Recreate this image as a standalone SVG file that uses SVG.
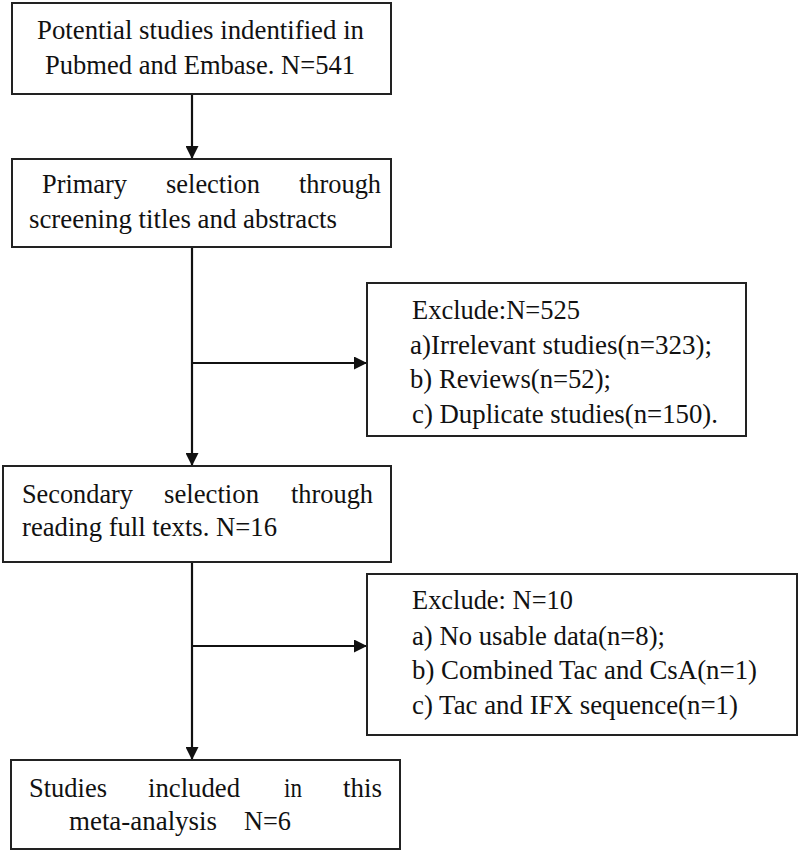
<svg xmlns="http://www.w3.org/2000/svg" width="800" height="853" viewBox="0 0 800 853">
<style>
.box{fill:#fff;stroke:#222;stroke-width:2}
.c{fill:none;stroke:#111;stroke-width:2.2}
</style>
<defs>
<marker id="ah" markerUnits="userSpaceOnUse" markerWidth="13" markerHeight="13" viewBox="0 0 13 13" refX="13" refY="6.5" orient="auto">
<path d="M0,0 L13,6.5 L0,13 z" fill="#111"/>
</marker>
</defs>
<rect width="800" height="853" fill="#fff"/>
<g id="connectors">
<line class="c" x1="192" y1="94" x2="192" y2="159" marker-end="url(#ah)"/>
<line class="c" x1="192" y1="247" x2="192" y2="466" marker-end="url(#ah)"/>
<line class="c" x1="192" y1="363" x2="367" y2="363" marker-end="url(#ah)"/>
<line class="c" x1="192" y1="562" x2="192" y2="760" marker-end="url(#ah)"/>
<line class="c" x1="192" y1="646" x2="367" y2="646" marker-end="url(#ah)"/>
</g>
<g font-family="Liberation Serif, Times New Roman, serif" font-size="26.5" fill="#111">
<g id="node1">
<rect class="box" x="12" y="3" width="379" height="91"/>
<text x="37" y="39" textLength="327" lengthAdjust="spacingAndGlyphs">Potential studies indentified in</text>
<text x="45" y="74" textLength="310" lengthAdjust="spacingAndGlyphs">Pubmed and Embase. N=541</text>
</g>
<g id="node2">
<rect class="box" x="12" y="159" width="379" height="88"/>
<text x="42" y="193" textLength="85" lengthAdjust="spacingAndGlyphs">Primary</text>
<text x="166" y="193" textLength="94" lengthAdjust="spacingAndGlyphs">selection</text>
<text x="299" y="193" textLength="82" lengthAdjust="spacingAndGlyphs">through</text>
<text x="29" y="228" textLength="308" lengthAdjust="spacingAndGlyphs">screening titles and abstracts</text>
</g>
<g id="exclude1">
<rect class="box" x="367" y="283" width="379" height="153"/>
<text x="412" y="319" textLength="168" lengthAdjust="spacingAndGlyphs">Exclude:N=525</text>
<text x="410" y="354" textLength="302" lengthAdjust="spacingAndGlyphs">a)Irrelevant studies(n=323);</text>
<text x="410" y="388" textLength="201" lengthAdjust="spacingAndGlyphs">b) Reviews(n=52);</text>
<text x="412" y="423" textLength="306" lengthAdjust="spacingAndGlyphs">c) Duplicate studies(n=150).</text>
</g>
<g id="node3">
<rect class="box" x="3" y="466" width="388" height="96"/>
<text x="22" y="503" textLength="111" lengthAdjust="spacingAndGlyphs">Secondary</text>
<text x="164" y="503" textLength="95" lengthAdjust="spacingAndGlyphs">selection</text>
<text x="291" y="503" textLength="82" lengthAdjust="spacingAndGlyphs">through</text>
<text x="22" y="536" textLength="255" lengthAdjust="spacingAndGlyphs">reading full texts. N=16</text>
</g>
<g id="exclude2">
<rect class="box" x="367" y="574" width="430" height="161"/>
<text x="412" y="609" textLength="161" lengthAdjust="spacingAndGlyphs">Exclude: N=10</text>
<text x="412" y="645" textLength="253" lengthAdjust="spacingAndGlyphs">a) No usable data(n=8);</text>
<text x="412" y="679" textLength="345" lengthAdjust="spacingAndGlyphs">b) Combined Tac and CsA(n=1)</text>
<text x="412" y="714" textLength="326" lengthAdjust="spacingAndGlyphs">c) Tac and IFX sequence(n=1)</text>
</g>
<g id="node4">
<rect class="box" x="11" y="760" width="389" height="89"/>
<text x="29" y="797" textLength="78" lengthAdjust="spacingAndGlyphs">Studies</text>
<text x="148" y="797" textLength="92" lengthAdjust="spacingAndGlyphs">included</text>
<text x="284" y="797" textLength="18" lengthAdjust="spacingAndGlyphs">in</text>
<text x="343" y="797" textLength="39" lengthAdjust="spacingAndGlyphs">this</text>
<text x="69" y="830" textLength="148" lengthAdjust="spacingAndGlyphs">meta-analysis</text>
<text x="244" y="830" textLength="47" lengthAdjust="spacingAndGlyphs">N=6</text>
</g>
</g>
</svg>
